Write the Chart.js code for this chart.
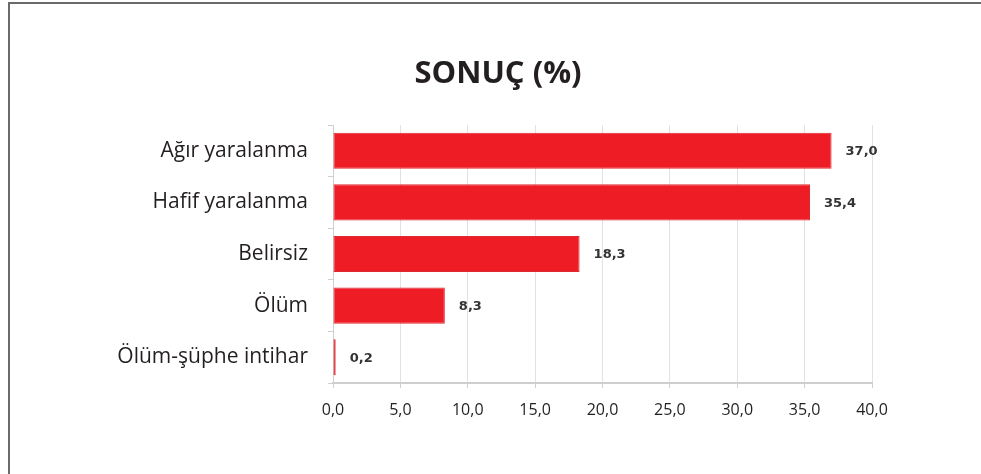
<!DOCTYPE html>
<html>
<head>
<meta charset="utf-8">
<script src="https://cdn.jsdelivr.net/npm/chart.js@4/dist/chart.umd.min.js"></script>
<style>
  html, body { margin: 0; padding: 0; background: #fff; overflow: hidden; }
  canvas { display: block; }
</style>
</head>
<body>
<canvas id="chart" width="981" height="474"></canvas>
<script>
// Data
const categories = ['Ağır yaralanma', 'Hafif yaralanma', 'Belirsiz', 'Ölüm', 'Ölüm-şüphe intihar'];
const values = [37.0, 35.4, 18.3, 8.3, 0.2];
const titleText = 'SONUÇ (%)';

const fmt = (v) => Number(v).toFixed(1).replace('.', ',');

// top/left frame line and the title (centred on the picture, not on the plot)
const frame = {
  id: 'frame',
  beforeDraw(chart) {
    const ctx = chart.ctx;
    ctx.save();
    ctx.strokeStyle = '#6a6a6a';
    ctx.lineWidth = 2;
    ctx.beginPath();
    ctx.moveTo(9, 474);
    ctx.lineTo(9, 3);
    ctx.lineTo(981, 3);
    ctx.stroke();
    ctx.font = 'bold 31px "Open Sans"';
    ctx.fillStyle = '#231f20';
    ctx.textAlign = 'center';
    ctx.textBaseline = 'middle';
    ctx.fillText(titleText, 498, 74);
    ctx.restore();
  }
};

// draw the value next to each bar
const valueLabels = {
  id: 'valueLabels',
  afterDatasetsDraw(chart) {
    const ctx = chart.ctx;
    const meta = chart.getDatasetMeta(0);
    ctx.save();
    ctx.font = 'bold 13px "DejaVu Sans"';
    ctx.fillStyle = '#333';
    ctx.textBaseline = 'middle';
    ctx.textAlign = 'left';
    meta.data.forEach((bar, i) => {
      ctx.fillText(fmt(values[i]), bar.x + 14, bar.y + 1);
    });
    ctx.restore();
  }
};

new Chart(document.getElementById('chart'), {
  type: 'bar',
  data: {
    labels: categories,
    datasets: [{
      data: values,
      backgroundColor: '#ee1c25',
      borderColor: '#dd2a30',
      borderWidth: 1,
      borderSkipped: false,
      barPercentage: 0.7,
      categoryPercentage: 1.0
    }]
  },
  options: {
    indexAxis: 'y',
    responsive: false,
    animation: false,
    layout: { padding: { left: 0, right: 109, top: 125, bottom: 0 } },
    plugins: {
      legend: { display: false },
      tooltip: { enabled: false },
      title: { display: false }
    },
    scales: {
      x: {
        min: 0,
        max: 40,
        ticks: {
          stepSize: 5,
          color: '#231f20',
          font: { family: '"Open Sans"', size: 16 },
          padding: 13,
          callback: (v) => fmt(v)
        },
        grid: { color: '#e2e2e2', tickLength: 5, tickColor: '#cfcfcf' },
        border: { color: '#cfcfcf', width: 2 },
        afterFit(scale) { scale.height = 474 - 383; }
      },
      y: {
        ticks: {
          color: '#231f20',
          font: { family: '"Open Sans"', size: 21 },
          padding: 20
        },
        grid: { drawOnChartArea: false, tickLength: 5, color: '#cfcfcf', offset: true },
        border: { color: '#cfcfcf', width: 1 },
        afterFit(scale) { scale.width = 333; }
      }
    }
  },
  plugins: [frame, valueLabels]
});
</script>
</body>
</html>
